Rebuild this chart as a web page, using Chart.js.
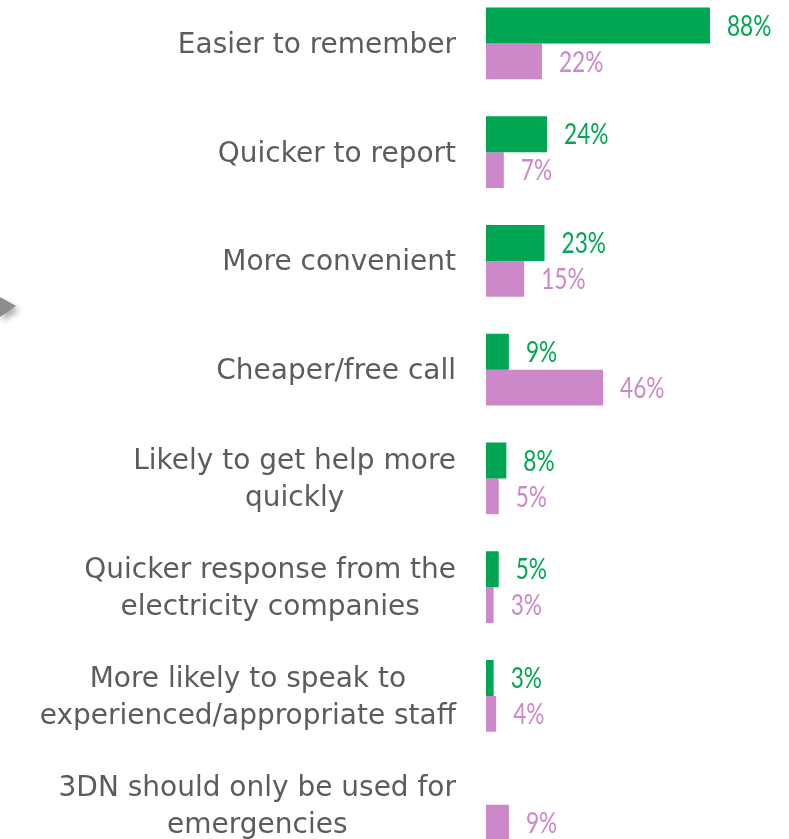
<!DOCTYPE html>
<html>
<head>
<meta charset="utf-8">
<script src="https://cdn.jsdelivr.net/npm/chart.js@4/dist/chart.umd.min.js"></script>
<style>
  html, body { margin: 0; padding: 0; background: #ffffff; overflow: hidden; }
  #wrap { position: absolute; left: 0; top: -11px; width: 789px; height: 870px; }
</style>
</head>
<body>
<div id="wrap"><canvas id="c"></canvas></div>
<script>
const categories = [
  ["Easier to remember"],
  ["Quicker to report"],
  ["More convenient"],
  ["Cheaper/free call"],
  ["Likely to get help more", "quickly"],
  ["Quicker response from the", "electricity companies"],
  ["More likely to speak to", "experienced/appropriate staff"],
  ["3DN should only be used for", "emergencies"]
];
const seriesGreen = [88, 24, 23, 9, 8, 5, 3, null];
const seriesPink = [22, 7, 15, 46, 5, 3, 4, 9];
const seriesNames = ["Series 1", "Series 2"];

const GREEN = "#00A651";
const PINK = "#CC88C8";
const LABEL_GREY = "#5c5c5c";

const decorPlugin = {
  id: "decor",
  beforeDraw(chart) {
    const ctx = chart.ctx;
    ctx.save();
    ctx.shadowColor = "rgba(0,0,0,0.35)";
    ctx.shadowBlur = 6;
    ctx.shadowOffsetX = 3;
    ctx.shadowOffsetY = 4;
    ctx.fillStyle = "#8c8c8c";
    ctx.beginPath();
    ctx.moveTo(0, 308);
    ctx.lineTo(16, 317);
    ctx.lineTo(0, 328);
    ctx.closePath();
    ctx.fill();
    ctx.restore();
  }
};

const catLabelPlugin = {
  id: "catLabels",
  afterDraw(chart) {
    const ctx = chart.ctx;
    const y = chart.scales.y;
    const right = chart.chartArea.left - 30;
    const sx = 0.965;
    const lineH = 37;
    ctx.save();
    ctx.font = "29px 'DejaVu Sans'";
    ctx.fillStyle = LABEL_GREY;
    ctx.textAlign = "center";
    ctx.textBaseline = "middle";
    categories.forEach((lines, i) => {
      const cy = y.getPixelForValue(i) + 2;
      let maxW = 0;
      lines.forEach(l => { maxW = Math.max(maxW, ctx.measureText(l).width * sx); });
      const cx = right - maxW / 2;
      lines.forEach((l, j) => {
        const ly = cy + (j - (lines.length - 1) / 2) * lineH;
        ctx.save();
        ctx.translate(cx, ly);
        ctx.scale(sx, 1);
        ctx.fillText(l, 0, 0);
        ctx.restore();
      });
    });
    ctx.restore();
  }
};

const valueLabelPlugin = {
  id: "valueLabels",
  afterDatasetsDraw(chart) {
    const ctx = chart.ctx;
    const sx = 0.78;
    ctx.save();
    ctx.font = "29px Lato";
    ctx.textAlign = "left";
    ctx.textBaseline = "middle";
    chart.data.datasets.forEach((ds, di) => {
      const meta = chart.getDatasetMeta(di);
      ctx.fillStyle = ds.backgroundColor;
      meta.data.forEach((bar, i) => {
        const v = ds.data[i];
        if (v === null || v === undefined) return;
        ctx.save();
        ctx.translate(bar.x + 17, bar.y + 1);
        ctx.scale(sx, 1);
        ctx.fillText(v + "%", 0, 0);
        ctx.restore();
      });
    });
    ctx.restore();
  }
};

new Chart(document.getElementById("c"), {
  type: "bar",
  data: {
    labels: categories,
    datasets: [
      { label: seriesNames[0], data: seriesGreen, backgroundColor: GREEN, borderWidth: 0 },
      { label: seriesNames[1], data: seriesPink, backgroundColor: PINK, borderWidth: 0 }
    ]
  },
  options: {
    indexAxis: "y",
    responsive: true,
    maintainAspectRatio: false,
    animation: false,
    devicePixelRatio: 1,
    layout: { padding: { left: 486, right: 48.5, top: 0, bottom: 0 } },
    datasets: { bar: { categoryPercentage: 0.662, barPercentage: 1.0 } },
    scales: {
      x: { display: false, min: 0, max: 100 },
      y: { display: false }
    },
    plugins: {
      legend: { display: false },
      tooltip: { enabled: false }
    }
  },
  plugins: [decorPlugin, catLabelPlugin, valueLabelPlugin]
});
</script>
</body>
</html>
